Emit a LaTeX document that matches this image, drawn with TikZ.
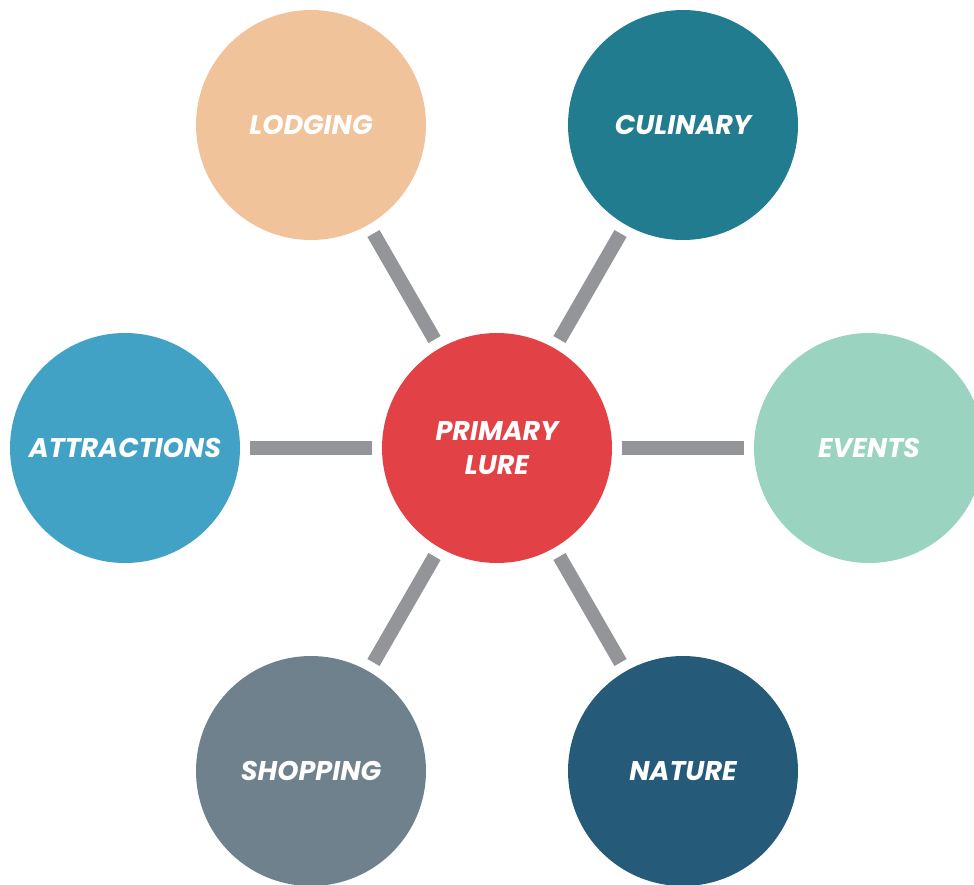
\documentclass[tikz,border=0pt]{standalone}
\usepackage{fontspec}
\setmainfont{Poppins}
\usepackage{xcolor}
\usetikzlibrary{calc}
\definecolor{lure}{HTML}{E24145}
\definecolor{peach}{HTML}{F0C39B}
\definecolor{teal}{HTML}{217C8F}
\definecolor{sky}{HTML}{42A2C5}
\definecolor{mint}{HTML}{9AD3C0}
\definecolor{slate}{HTML}{6F818D}
\definecolor{navy}{HTML}{255B78}
\definecolor{spoke}{HTML}{949599}
\tikzset{
  hubdot/.style={circle, inner sep=0pt, minimum size=230pt, text=white,
    font=\fontsize{27}{34}\selectfont\bfseries\itshape, align=center},
  bar/.style={draw=spoke, line width=14pt, line cap=butt, shorten <=10pt, shorten >=10pt}
}
\begin{document}
\begin{tikzpicture}[x=1pt,y=-1pt]
  \useasboundingbox (0,0) rectangle (974,884);
  \clip (0,0) rectangle (974,884);
  \coordinate (O) at (497,448);
  \node[hubdot,fill=lure] (hub) at (O) {PRIMARY\\LURE};
  \node[hubdot,fill=peach] (lodging) at ($(O)+(-186,-323)$) {LODGING};
  \node[hubdot,fill=teal] (culinary) at ($(O)+(186,-323)$) {CULINARY};
  \node[hubdot,fill=sky] (attractions) at ($(O)+(-372,0)$) {ATTRACTIONS};
  \node[hubdot,fill=mint] (events) at ($(O)+(372,0)$) {EVENTS};
  \node[hubdot,fill=slate] (shopping) at ($(O)+(-186,323)$) {SHOPPING};
  \node[hubdot,fill=navy] (nature) at ($(O)+(186,323)$) {NATURE};
  \foreach \n in {lodging,culinary,attractions,events,shopping,nature}
    \draw[bar] (hub) -- (\n);
\end{tikzpicture}
\end{document}
